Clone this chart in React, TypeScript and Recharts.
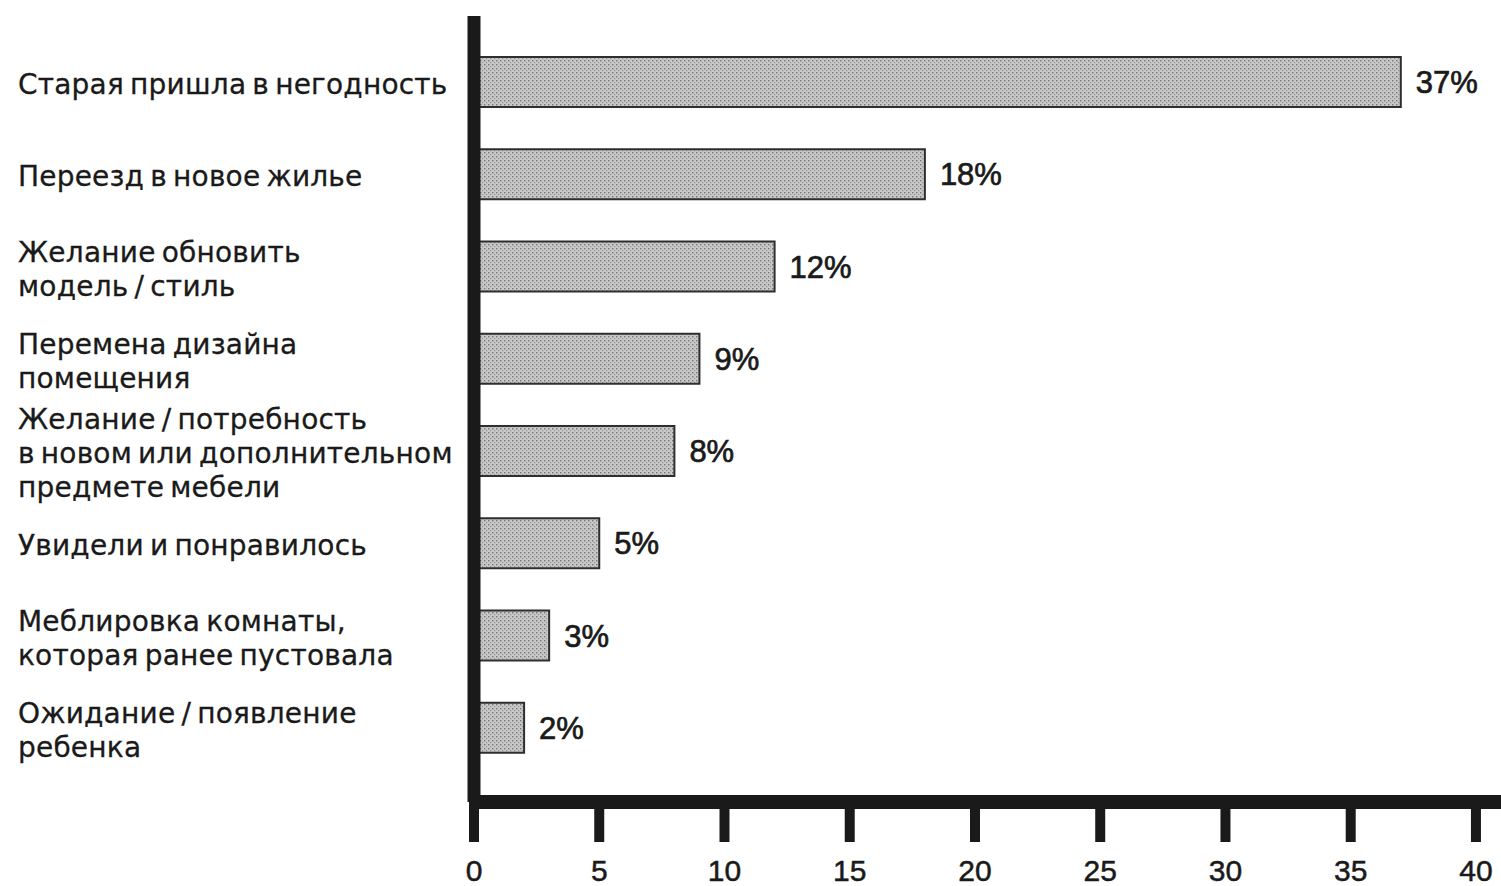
import { Bar, BarChart, LabelList, XAxis, YAxis } from "recharts"

const reasons = [
  "Старая пришла в негодность",
  "Переезд в новое жилье",
  "Желание обновить\nмодель / стиль",
  "Перемена дизайна\nпомещения",
  "Желание / потребность\nв новом или дополнительном\nпредмете мебели",
  "Увидели и понравилось",
  "Меблировка комнаты,\nкоторая ранее пустовала",
  "Ожидание / появление\nребенка",
]

const shares = [37, 18, 12, 9, 8, 5, 3, 2]

const xTicks = [0, 5, 10, 15, 20, 25, 30, 35, 40]

const data = reasons.map((reason, i) => ({ reason, share: shares[i] }))

const font = "'Liberation Sans', Arial, sans-serif"
const labelFont = "'DejaVu Sans', sans-serif"
const ink = "#1a1a1a"

// multi-line category label, lines centred on the bar
function ReasonTick({ y, payload }: any) {
  const lines = String(payload.value).split("\n")
  const lineHeight = 34
  const firstDy = -((lines.length - 1) * lineHeight) / 2
  return (
    <text
      x={18}
      y={y + 2}
      fill={ink}
      stroke={ink}
      strokeWidth={0.3}
      fontFamily={labelFont}
      fontSize={28}
      letterSpacing={0.2}
      wordSpacing={-3}
      textAnchor="start"
      dominantBaseline="central"
    >
      {lines.map((line, i) => (
        <tspan key={i} x={18} dy={i === 0 ? firstDy : lineHeight}>
          {line}
        </tspan>
      ))}
    </text>
  )
}

export default function App() {
  return (
    <div style={{ position: "absolute", left: 0, top: 0, background: "#fff" }}>
      <BarChart
        width={1501}
        height={886}
        data={data}
        layout="vertical"
        margin={{ top: 16, right: 0, bottom: 0, left: 0 }}
      >
        <defs>
          <pattern id="dots" width="4" height="4" patternUnits="userSpaceOnUse">
            <rect width="4" height="4" fill="#c8c8c8" />
            <rect x="0" y="0" width="1.4" height="1.4" fill="#767676" />
            <rect x="2" y="2" width="1.2" height="1.2" fill="#939393" />
          </pattern>
        </defs>
        <XAxis
          type="number"
          domain={[0, 41]}
          ticks={xTicks}
          height={84}
          axisLine={{ stroke: ink, strokeWidth: 14 }}
          tickLine={{ stroke: ink, strokeWidth: 10 }}
          tickSize={40}
          tickMargin={18}
          tick={{ fill: ink, stroke: ink, strokeWidth: 0.5, fontFamily: font, fontSize: 30 }}
        />
        <YAxis
          type="category"
          dataKey="reason"
          width={474}
          padding={{ top: 20, bottom: 28 }}
          axisLine={{ stroke: ink, strokeWidth: 13 }}
          tickLine={false}
          tick={<ReasonTick />}
          interval={0}
        />
        <Bar
          dataKey="share"
          barSize={50}
          fill="url(#dots)"
          stroke="#2e2e2e"
          strokeWidth={2}
          isAnimationActive={false}
        >
          <LabelList
            dataKey="share"
            position="right"
            offset={15}
            formatter={(v: any) => `${v}%`}
            fill={ink}
            stroke={ink}
            strokeWidth={0.7}
            fontFamily={font}
            fontSize={31}
          />
        </Bar>
      </BarChart>
    </div>
  )
}
